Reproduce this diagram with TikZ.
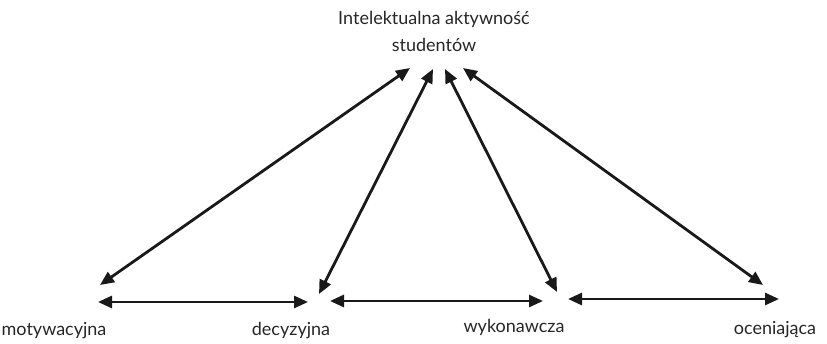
\documentclass[tikz,border=0pt]{standalone}
\usepackage{fontspec}
\setmainfont{Lato}
\usetikzlibrary{arrows.meta}
\begin{document}
\begin{tikzpicture}[x=1pt,y=-1pt,
  label/.style={font=\fontsize{18}{22}\selectfont, text=black!85, inner sep=0pt},
  link/.style={line width=2.8pt, draw=black!90, {Triangle[length=14pt,width=12pt]}-{Triangle[length=14pt,width=12pt]}}]
\useasboundingbox (0,0) rectangle (827,344);
% top label
\node[label, align=center] (top) at (434,31) {Intelektualna aktywność\\[5pt]studentów};
% bottom labels
\node[label] (mot) at (54,331) {motywacyjna};
\node[label] (dec) at (291,331) {decyzyjna};
\node[label] (wyk) at (514,327) {wykonawcza};
\node[label] (oce) at (775,330) {oceniająca};
% arrow end points
\coordinate (t1) at (410,68);
\coordinate (t2) at (433,69);
\coordinate (t3) at (445,69);
\coordinate (t4) at (463,68);
\coordinate (b1) at (100,285);
\coordinate (b2) at (319,294);
\coordinate (b3) at (557,292);
\coordinate (b4) at (763,285);
\coordinate (h1l) at (98,302);
\coordinate (h1r) at (308,302);
\coordinate (h2l) at (330,301);
\coordinate (h2r) at (543,301);
\coordinate (h3l) at (568,299);
\coordinate (h3r) at (779,299);
% links to the top
\draw[link] (t1) -- (b1);
\draw[link] (t2) -- (b2);
\draw[link] (t3) -- (b3);
\draw[link] (t4) -- (b4);
% links along the bottom
\draw[link] (h1l) -- (h1r);
\draw[link] (h2l) -- (h2r);
\draw[link] (h3l) -- (h3r);
\end{tikzpicture}
\end{document}
